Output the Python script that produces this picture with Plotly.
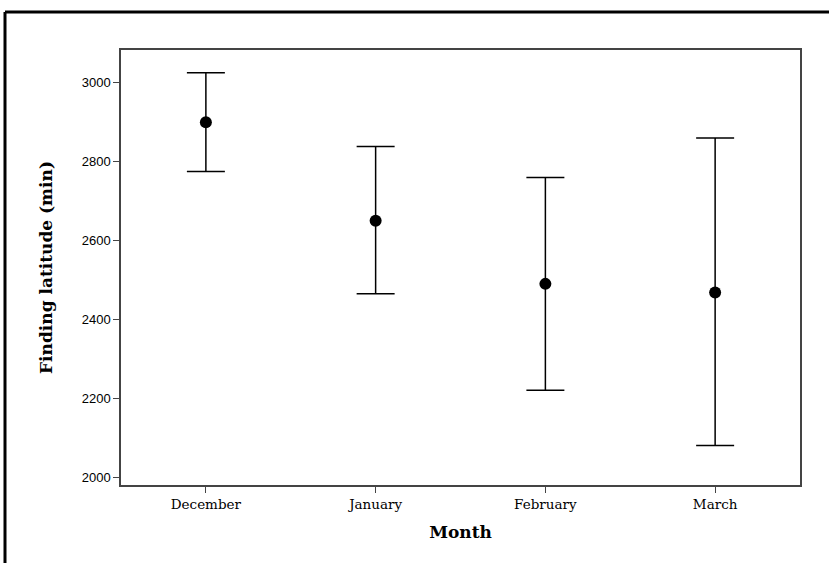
import plotly.graph_objects as go

months = ["December", "January", "February", "March"]
means = [2900, 2650, 2490, 2468]
upper = [3025, 2838, 2760, 2860]
lower = [2775, 2465, 2220, 2080]

err_plus = [u - m for u, m in zip(upper, means)]
err_minus = [m - l for m, l in zip(means, lower)]

fig = go.Figure()
fig.add_trace(go.Scatter(
    x=months, y=means, mode="markers",
    marker=dict(color="black", size=12),
    error_y=dict(type="data", symmetric=False, array=err_plus, arrayminus=err_minus,
                 color="black", thickness=1.5, width=19),
    showlegend=False,
))

W, H = 829, 563
L, R, T, B = 121, 29, 50, 78
pw, ph = W - L - R, H - T - B
fx = (5 - L) / pw
fy = 1 + (T - 12) / ph

fig.update_layout(
    width=W, height=H,
    margin=dict(l=L, r=R, t=T, b=B),
    paper_bgcolor="white", plot_bgcolor="white",
    font=dict(family="DejaVu Serif", color="black"),
    xaxis=dict(
        range=[-0.5, 3.5], showgrid=False, zeroline=False,
        showline=True, linecolor="#444", linewidth=1.5, mirror=True,
        ticks="outside", ticklen=6, tickcolor="#444",
        tickfont=dict(family="DejaVu Serif", size=13.5),
        title=dict(text="<b>Month</b>", font=dict(family="DejaVu Serif", size=17), standoff=15),
    ),
    yaxis=dict(
        range=[1980, 3083], showgrid=False, zeroline=False,
        showline=True, linecolor="#444", linewidth=1.5, mirror=True,
        ticks="outside", ticklen=6, tickcolor="#444",
        tickvals=[2000, 2200, 2400, 2600, 2800, 3000],
        tickfont=dict(family="Liberation Sans", size=13),
        title=dict(text="<b>Finding latitude (min)</b>", font=dict(family="DejaVu Serif", size=17), standoff=25),
    ),
    shapes=[
        dict(type="line", xref="paper", yref="paper", x0=fx, x1=fx, y0=-0.5, y1=fy,
             line=dict(color="black", width=3)),
        dict(type="line", xref="paper", yref="paper", x0=fx, x1=1.5, y0=fy, y1=fy,
             line=dict(color="black", width=3)),
    ],
)

fig.write_html("out.html")
